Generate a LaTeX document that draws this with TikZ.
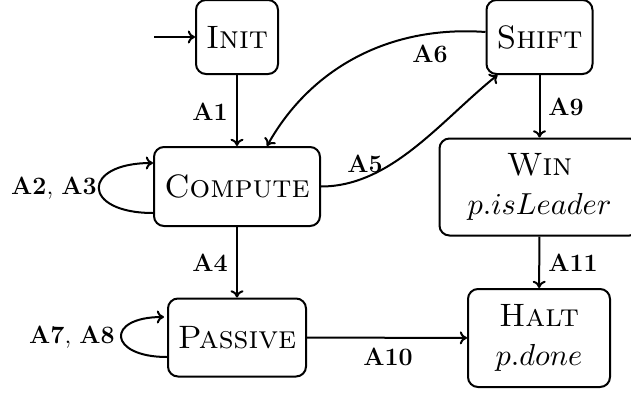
\documentclass[tikz,border=0pt]{standalone}
\usetikzlibrary{arrows.meta}
\DeclareFontFamily{OT1}{cmr}{\hyphenchar\font45 }
\DeclareFontShape{OT1}{cmr}{m}{n}{<->cmr10}{}
\DeclareFontShape{OT1}{cmr}{m}{sc}{<->cmcsc10}{}
\DeclareFontShape{OT1}{cmr}{bx}{n}{<->cmbx10}{}
\DeclareFontShape{OT1}{cmr}{m}{it}{<->cmti10}{}
\DeclareFontFamily{OML}{cmm}{\skewchar\font127 }
\DeclareFontShape{OML}{cmm}{m}{it}{<->cmmi10}{}
\newcommand{\mathline}[1]{{\fontsize{15.2}{19.5}\selectfont$#1$}}
\begin{document}
\begin{tikzpicture}[x=0.5pt,y=-0.5pt,
  state/.style={draw,rounded corners=5pt,line width=1pt,align=center,inner sep=2pt,
    font=\fontsize{16.2}{19.5}\selectfont},
  lbl/.style={inner sep=0pt,font=\fontsize{12.5}{14}\selectfont},
  edge/.style={line width=1pt,-{To[length=3.6pt,width=6.5pt]}}]
\useasboundingbox (0,0) rectangle (631,396);
\node[state,minimum width=41pt,minimum height=37pt] (init) at (237,37) {\textsc{Init}};
\node[state,minimum width=53pt,minimum height=37pt] (shift) at (539.5,37) {\textsc{Shift}};
\node[state,minimum width=83pt,minimum height=39.5pt] (compute) at (237,186.5) {\textsc{Compute}};
\node[state,minimum width=100pt,minimum height=48.5pt] (win) at (539.5,187) {\textsc{Win}\\ \mathline{p.isLeader}};
\node[state,minimum width=69pt,minimum height=39pt] (passive) at (237,337.5) {\textsc{Passive}};
\node[state,minimum width=71pt,minimum height=49pt] (halt) at (539,338) {\textsc{Halt}\\ \mathline{p.done}};
\coordinate (start) at (154,37);
\draw[edge] (start) -- (init);
\draw[edge] (init) -- (compute);
\draw[edge] ([yshift=2.5pt]shift.west) .. controls +(-97,-7) and +(43,-77) .. ([xshift=15pt]compute.north);
\draw[edge] (compute.east) .. controls +(70,0) and +(-57,46) .. ([xshift=-21pt]shift.south);
\draw[edge] (shift) -- (win);
\draw[edge] (win) -- (halt);
\draw[edge] (compute) -- (passive);
\draw[edge] (passive) -- (halt);
\draw[edge] ([yshift=-13.25pt]compute.west) .. controls +(-72,0) and +(-72,0) .. ([yshift=11.75pt]compute.west);
\draw[edge] ([yshift=-9.75pt]passive.west) .. controls +(-59,0) and +(-59,0) .. ([yshift=10.25pt,xshift=-1.5pt]passive.west);
\node[lbl] (l1) at (210,112) {\textbf{A1}};
\node[lbl] (l23) at (54,188) {\textbf{A2}, \textbf{A3}};
\node[lbl] (l4) at (210,263) {\textbf{A4}};
\node[lbl] (l5) at (365,164) {\textbf{A5}};
\node[lbl] (l6) at (430,54) {\textbf{A6}};
\node[lbl] (l78) at (72,337) {\textbf{A7}, \textbf{A8}};
\node[lbl] (l9) at (566,107) {\textbf{A9}};
\node[lbl] (l10) at (388,357) {\textbf{A10}};
\node[lbl] (l11) at (573,263) {\textbf{A11}};
\end{tikzpicture}
\end{document}
